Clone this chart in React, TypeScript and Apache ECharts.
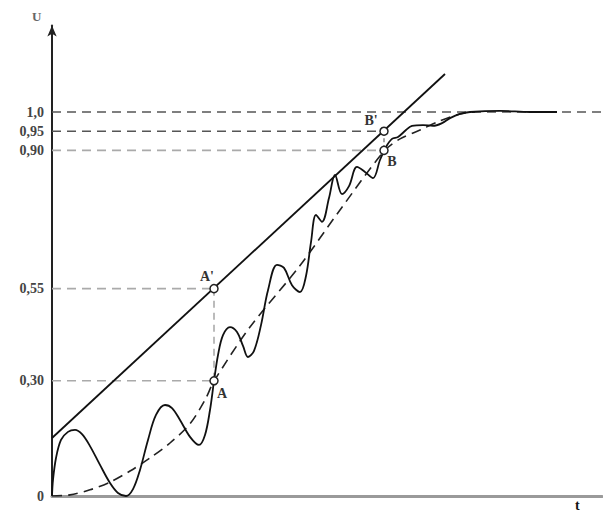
import React, { useEffect, useRef } from "react";
import * as echarts from "echarts";

// Oscillating transient response (t, U)
const wavyT = [0, 0.2, 0.8, 1.8, 3.2, 4.6, 6.0, 7.6, 9.6, 11.6, 13.2, 14.8, 16.2, 17.6, 19.2, 20.8, 22.6, 24.0, 25.6, 27.6, 29.4, 30.6, 31.6, 32.4, 33.2, 34.2, 35.6, 37.0, 38.2, 39.2, 40.4, 41.8, 43.2, 45.0, 46.4, 48.0, 49.6, 50.8, 51.8, 52.8, 54.0, 55.4, 56.6, 58.0, 59.4, 61.0, 62.6, 64.2, 65.6, 66.8, 68.0, 69.2, 70.8, 72.0, 74.2, 76.2, 78.0, 79.6, 81.6, 83.6, 89.6, 95.6, 101.0];
const wavyU = [0, 0.042, 0.099, 0.146, 0.167, 0.172, 0.161, 0.13, 0.081, 0.034, 0.008, 0.0, 0.018, 0.068, 0.146, 0.211, 0.237, 0.229, 0.198, 0.154, 0.133, 0.159, 0.224, 0.299, 0.367, 0.419, 0.44, 0.427, 0.391, 0.362, 0.378, 0.445, 0.536, 0.602, 0.594, 0.549, 0.531, 0.573, 0.661, 0.732, 0.714, 0.776, 0.836, 0.786, 0.807, 0.857, 0.844, 0.828, 0.875, 0.909, 0.93, 0.935, 0.953, 0.964, 0.966, 0.964, 0.971, 0.984, 0.995, 1.0, 1.003, 1.0, 1.0];

// Mean (smoothed) response, dashed
const meanT = [0, 3.6, 7.6, 11.6, 15.6, 19.6, 23.6, 27.6, 30.6, 32.4, 39.6, 49.6, 57.6, 66.4, 69.6, 73.6, 77.6, 81.6, 84.6];
const meanU = [0, 0.003, 0.016, 0.036, 0.065, 0.099, 0.138, 0.188, 0.25, 0.299, 0.44, 0.6, 0.745, 0.898, 0.93, 0.953, 0.977, 0.995, 1.0];

// Tangent line
const tangentT = [0, 78.6];
const tangentU = [0.151, 1.099];

// Marked points
const pointNames = ["A'", "A", "B'", "B"];
const pointT = [32.4, 32.4, 66.4, 66.4];
const pointU = [0.54, 0.3, 0.95, 0.9];

// Horizontal reference levels and where they end
const levelValues = [1.0, 0.95, 0.9, 0.54, 0.3];
const levelEnds = [110, 66.4, 66.4, 32.4, 32.4];
const levelColors = ["#555", "#555", "#aaa", "#aaa", "#aaa"];

// Y tick labels
const yTickValues = [0, 0.3, 0.54, 0.9, 0.95, 1.0];
const yTickLabels = ["0", "0,30", "0,55", "0,90", "0,95", "1,0"];

const SERIF = "'Liberation Serif', 'DejaVu Serif', serif";

export default function App() {
  const ref = useRef<HTMLDivElement>(null);
  useEffect(() => {
    if (!ref.current) return;
    const chart = echarts.init(ref.current, null, { renderer: "svg" });

    const levelSeries = levelValues.map((v, i) => ({
      type: "line",
      data: [
        [0, v],
        [levelEnds[i], v],
      ],
      showSymbol: false,
      lineStyle: { color: levelColors[i], width: 1.6, type: [9, 6] },
      z: 1,
      silent: true,
    }));

    const labelOffsets = [
      [-7, -12],
      [8, 13],
      [-13, -11],
      [8, 11],
    ];

    chart.setOption({
      animation: false,
      grid: { left: 52, right: 1, top: 25.6, bottom: 17 },
      xAxis: {
        type: "value",
        min: 0,
        max: 110,
        axisLine: { show: true, lineStyle: { color: "#9a9a9a", width: 3 } },
        axisTick: { show: false },
        axisLabel: { show: false },
        splitLine: { show: false },
      },
      yAxis: {
        type: "value",
        min: 0,
        max: 1.225,
        axisLine: {
          show: true,
          lineStyle: { color: "#222", width: 2 },
          symbol: ["none", "arrow"],
          symbolSize: [7, 11],
        },
        axisTick: { show: false },
        splitLine: { show: false },
        axisLabel: {
          customValues: yTickValues,
          margin: 8,
          fontFamily: SERIF,
          fontSize: 14,
          fontWeight: "bold",
          color: "#444",
          formatter: (val: number) => {
            let best = 0;
            let bd = Infinity;
            yTickValues.forEach((tv, i) => {
              const d = Math.abs(tv - val);
              if (d < bd) {
                bd = d;
                best = i;
              }
            });
            return yTickLabels[best];
          },
        },
      },
      graphic: [
        {
          type: "text",
          left: 32,
          top: 10,
          style: { text: "U", font: `bold 13px ${SERIF}`, fill: "#666" },
        },
        {
          type: "text",
          left: 575,
          top: 498,
          style: { text: "t", font: `bold 14px ${SERIF}`, fill: "#111" },
        },
      ],
      series: [
        ...levelSeries,
        {
          type: "line",
          data: [
            [pointT[0], pointU[0]],
            [pointT[1], pointU[1]],
          ],
          showSymbol: false,
          lineStyle: { color: "#aaa", width: 1.6, type: [7, 5] },
          z: 1,
        },
        {
          type: "line",
          data: [
            [pointT[2], pointU[2]],
            [pointT[3], pointU[3]],
          ],
          showSymbol: false,
          lineStyle: { color: "#666", width: 1.2, type: [4, 3] },
          z: 1,
        },
        {
          type: "line",
          data: tangentT.map((t, i) => [t, tangentU[i]]),
          showSymbol: false,
          lineStyle: { color: "#111", width: 1.8 },
          z: 3,
        },
        {
          type: "line",
          data: meanT.map((t, i) => [t, meanU[i]]),
          showSymbol: false,
          smooth: 0.3,
          lineStyle: { color: "#222", width: 1.6, type: [10, 6] },
          z: 2,
        },
        {
          type: "line",
          data: wavyT.map((t, i) => [t, wavyU[i]]),
          showSymbol: false,
          smooth: 0.35,
          lineStyle: { color: "#111", width: 1.8 },
          z: 3,
        },
        {
          type: "scatter",
          data: pointT.map((t, i) => ({
            value: [t, pointU[i]],
            name: pointNames[i],
            label: {
              show: true,
              formatter: pointNames[i],
              position: "inside",
              offset: labelOffsets[i],
              fontFamily: SERIF,
              fontSize: 14,
              fontWeight: "bold",
              color: "#333",
            },
          })),
          symbol: "circle",
          symbolSize: 8,
          itemStyle: { color: "#ffffff", borderColor: "#222", borderWidth: 1.5, opacity: 1 },
          z: 5,
        },
      ],
    });
    return () => chart.dispose();
  }, []);
  return (
    <div
      ref={ref}
      style={{ position: "fixed", left: 0, top: 0, width: 603, height: 513, background: "#fff" }}
    />
  );
}
